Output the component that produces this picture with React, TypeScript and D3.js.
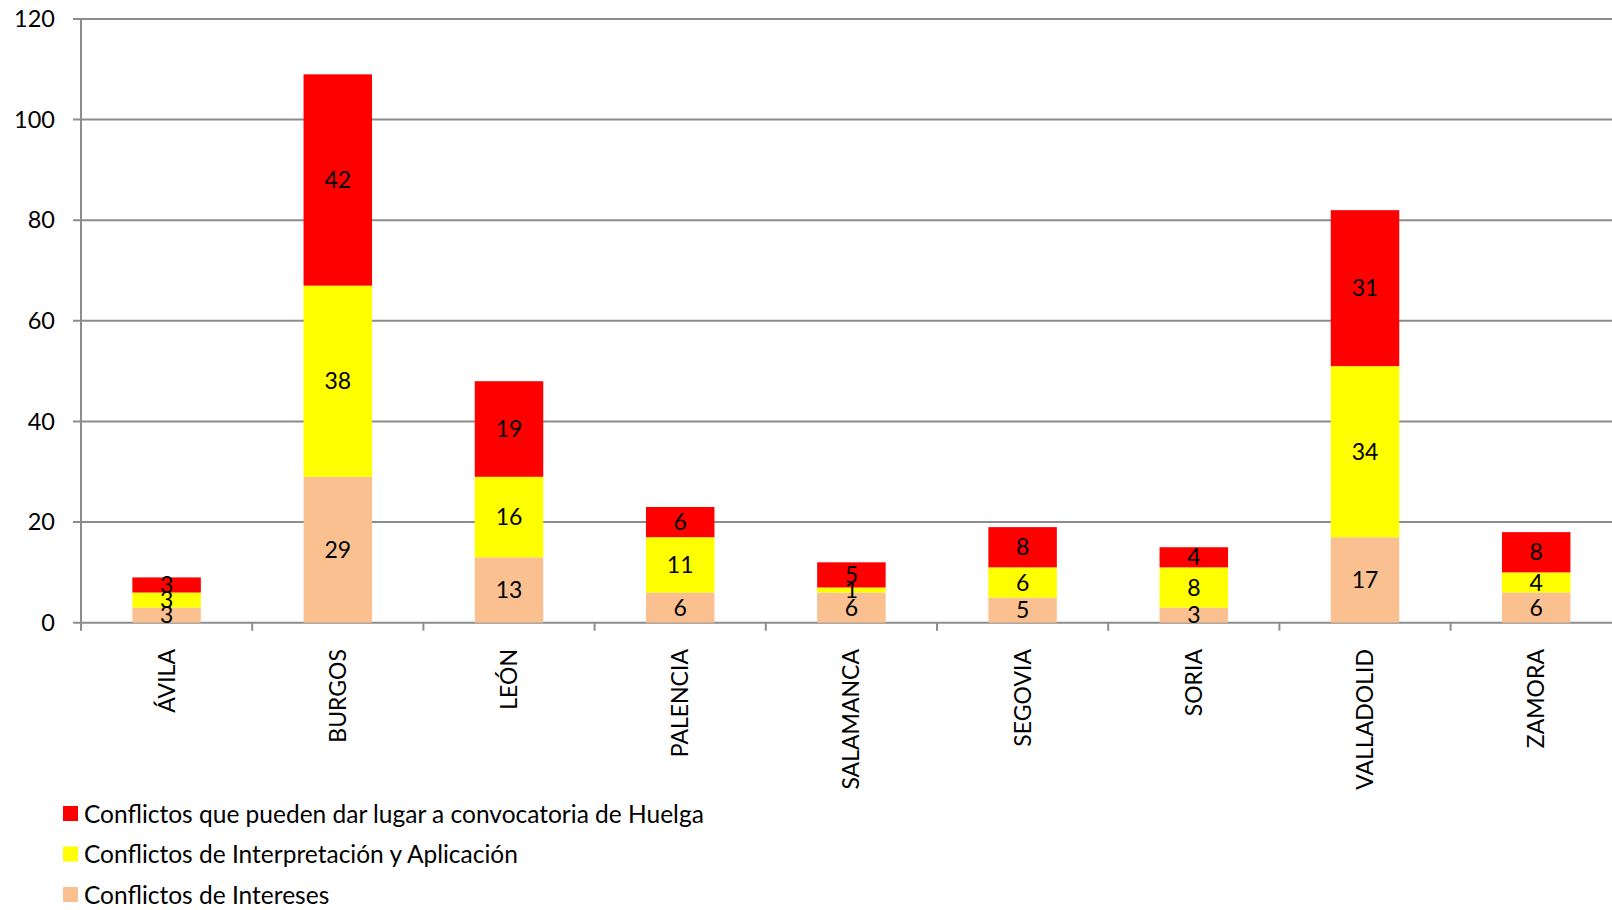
import React from "react";
import * as d3 from "d3";

const categories = ["ÁVILA", "BURGOS", "LEÓN", "PALENCIA", "SALAMANCA", "SEGOVIA", "SORIA", "VALLADOLID", "ZAMORA"];
const intereses = [3, 29, 13, 6, 6, 5, 3, 17, 6];
const interpretacion = [3, 38, 16, 11, 1, 6, 8, 34, 4];
const huelga = [3, 42, 19, 6, 5, 8, 4, 31, 8];
const seriesNames = [
  "Conflictos de Intereses",
  "Conflictos de Interpretación y Aplicación",
  "Conflictos que pueden dar lugar a convocatoria de Huelga",
];
const seriesColors = ["#FAC090", "#FFFF00", "#FF0000"];
const yTicks = [0, 20, 40, 60, 80, 100, 120];

export default function App() {
  const W = 1612, H = 910;
  const left = 81, top = 19, bottom = 622.7;
  const catW = 171.2;
  const right = left + catW * categories.length;
  const font = "Lato, 'Open Sans', sans-serif";

  const x = d3.scaleBand<string>().domain(categories).range([left, right]).paddingInner(0.6).paddingOuter(0.3);
  const xOuter = d3.scaleBand<string>().domain(categories).range([left, right]);
  const y = d3.scaleLinear().domain([0, 120]).range([bottom, top]);

  const table = categories.map((c, i) => ({ cat: c, s0: intereses[i], s1: interpretacion[i], s2: huelga[i] }));
  const stack = d3.stack<any>().keys(["s0", "s1", "s2"])(table);

  const legendOrder = [2, 1, 0];

  return (
    <svg width={W} height={H} style={{ position: "absolute", left: 0, top: 0, background: "#fff" }} fontFamily={font}>
      {yTicks.map((t) => (
        <g key={t}>
          <line x1={left - 8} x2={W + 20} y1={y(t)} y2={y(t)} stroke="#8c8c8c" strokeWidth={2} />
          <text x={55} y={y(t)} dy="0.35em" textAnchor="end" fontSize={23.5} fill="#000">{t}</text>
        </g>
      ))}
      <line x1={left} x2={left} y1={top} y2={bottom + 8} stroke="#8c8c8c" strokeWidth={2} />
      {categories.map((c, i) => (
        <line key={"t" + i} x1={(xOuter(c) as number) + catW} x2={(xOuter(c) as number) + catW} y1={bottom} y2={bottom + 8} stroke="#8c8c8c" strokeWidth={2} />
      ))}
      {stack.map((layer, si) => (
        <g key={si}>
          {layer.map((d, i) => (
            <rect key={i} x={x(categories[i])} width={x.bandwidth()} y={y(d[1])} height={y(d[0]) - y(d[1])} fill={seriesColors[si]} />
          ))}
        </g>
      ))}
      {stack.map((layer, si) => (
        <g key={"l" + si}>
          {layer.map((d, i) => (
            <text key={i} x={(x(categories[i]) as number) + x.bandwidth() / 2} y={(y(d[0]) + y(d[1])) / 2} dy="0.35em" textAnchor="middle" fontSize={23} fill="#000">
              {d[1] - d[0]}
            </text>
          ))}
        </g>
      ))}
      {categories.map((c) => {
        const cx = (xOuter(c) as number) + catW / 2;
        return (
          <text key={c} transform={`translate(${cx},649) rotate(-90)`} dy="0.35em" textAnchor="end" fontSize={23} fill="#000">{c}</text>
        );
      })}
      {legendOrder.map((si, k) => (
        <g key={si} transform={`translate(0,${814 + k * 40.5})`}>
          <rect x={63} y={-8} width={15} height={15} fill={seriesColors[si]} />
          <text x={84} y={0} dy="0.35em" fontSize={24.5} fill="#000">{seriesNames[si]}</text>
        </g>
      ))}
    </svg>
  );
}
